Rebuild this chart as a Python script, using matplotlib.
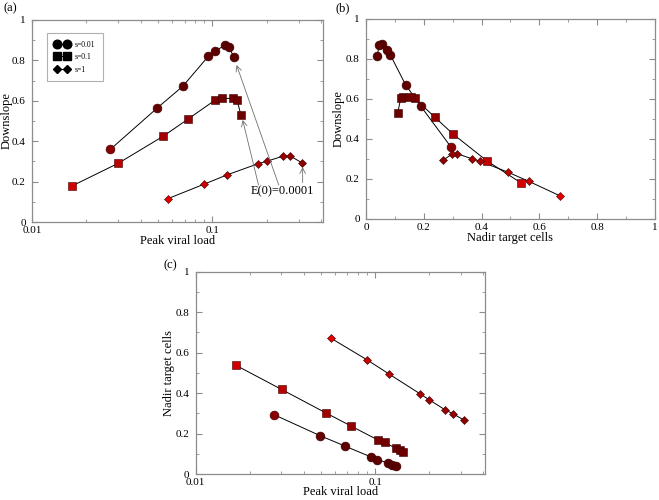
import numpy as np
import matplotlib
matplotlib.use('Agg')
import matplotlib.pyplot as plt
from matplotlib.ticker import MultipleLocator, FixedLocator, FuncFormatter, NullFormatter
from matplotlib.lines import Line2D

plt.rcParams['font.family'] = ['Liberation Serif', 'DejaVu Serif']

# s = 0.01 (circles)
peak_c = [0.0272, 0.0495, 0.0683, 0.095, 0.103, 0.118, 0.124, 0.131]
down_c = [0.360, 0.565, 0.671, 0.821, 0.846, 0.876, 0.868, 0.815]
nadir_c = [0.294, 0.189, 0.137, 0.084, 0.071, 0.054, 0.045, 0.039]

# s = 0.1 (squares)
peak_s = [0.0167, 0.0301, 0.0534, 0.0731, 0.1032, 0.1131, 0.1305, 0.1368, 0.1436]
down_s = [0.179, 0.291, 0.425, 0.509, 0.603, 0.612, 0.612, 0.603, 0.532]
nadir_s = [0.538, 0.418, 0.301, 0.238, 0.169, 0.156, 0.127, 0.120, 0.110]

# s = 1 (diamonds)
peak_d = [0.0568, 0.0903, 0.1202, 0.1783, 0.2000, 0.2468, 0.2703, 0.3135]
down_d = [0.116, 0.188, 0.233, 0.288, 0.301, 0.326, 0.326, 0.293]
nadir_d = [0.671, 0.564, 0.493, 0.396, 0.367, 0.316, 0.299, 0.266]

labels = ['s=0.01', 's=0.1', 's=1']

# colours per point (red -> dark maroon)
col_c = ['#8a0000', '#640000', '#600000', '#5c0000', '#5c0000', '#5a0000', '#5a0000', '#5a0000']
col_s = ['#d20000', '#c00000', '#a40000', '#900000', '#7a0000', '#720000', '#6e0000', '#6c0000', '#6a0000']
col_d = ['#e60000', '#cc0000', '#bb0000', '#a80000', '#a20000', '#980000', '#940000', '#8c0000']

series = [
    (peak_c, down_c, nadir_c, col_c, 'o', 6.4),
    (peak_s, down_s, nadir_s, col_s, 's', 5.2),
    (peak_d, down_d, nadir_d, col_d, 'D', 4.2),
]

fig = plt.figure(figsize=(6.59, 5.0), dpi=100)
ax_a = fig.add_axes([0.0486, 0.556, 0.4416, 0.404])
ax_b = fig.add_axes([0.5554, 0.562, 0.4385, 0.400])
ax_c = fig.add_axes([0.297, 0.052, 0.439, 0.4046])

spine_col = '#8c8c8c'


def style(ax, logx):
    for sp in ax.spines.values():
        sp.set_color(spine_col)
        sp.set_linewidth(0.9)
    ax.tick_params(which='both', direction='in', top=True, right=True,
                   color=spine_col, labelsize=8)
    ax.tick_params(axis='y', pad=4.5)
    ax.tick_params(axis='x', pad=3)
    ax.tick_params(which='major', length=4)
    ax.tick_params(which='minor', length=2.5)
    ax.set_ylim(0, 1)
    ax.yaxis.set_major_locator(MultipleLocator(0.2))
    ax.yaxis.set_minor_locator(MultipleLocator(0.1))
    ax.yaxis.set_major_formatter(FuncFormatter(lambda v, p: f'{v:g}'))
    if logx:
        ax.set_xscale('log')
        ax.set_xlim(0.01, 0.41)
        ax.xaxis.set_major_locator(FixedLocator([0.01, 0.1]))
        ax.xaxis.set_major_formatter(FuncFormatter(lambda v, p: f'{v:g}'))
        ax.xaxis.set_minor_formatter(NullFormatter())
    else:
        ax.set_xlim(0, 1)
        ax.xaxis.set_major_locator(MultipleLocator(0.2))
        ax.xaxis.set_minor_locator(MultipleLocator(0.1))
        ax.xaxis.set_major_formatter(FuncFormatter(lambda v, p: f'{v:g}'))


def draw(ax, xs, ys, cols, mk, ms):
    ax.plot(xs, ys, '-', color='black', lw=0.7, zorder=2)
    for x, y, c in zip(xs, ys, cols):
        ax.plot(x, y, marker=mk, ms=ms, color=c, mec='#3a0000', mew=0.4,
                linestyle='none', zorder=3)


for peak, down, nadir, cols, mk, ms in series:
    draw(ax_a, peak, down, cols, mk, ms)
    draw(ax_b, nadir, down, cols, mk, ms)
    draw(ax_c, peak, nadir, cols, mk, ms)

style(ax_a, True)
style(ax_b, False)
style(ax_c, True)

ax_a.set_xlabel('Peak viral load', fontsize=9, labelpad=0)
ax_a.set_ylabel('Downslope', fontsize=9)
ax_a.yaxis.set_label_coords(-0.068, 0.5)
ax_b.set_xlabel('Nadir target cells', fontsize=9, labelpad=0)
ax_b.set_ylabel('Downslope', fontsize=9)
ax_b.yaxis.set_label_coords(-0.074, 0.5)
ax_c.set_xlabel('Peak viral load', fontsize=9, labelpad=-1)
ax_c.set_ylabel('Nadir target cells', fontsize=9)
ax_c.yaxis.set_label_coords(-0.072, 0.5)

# legend in panel (a)
handles = [Line2D([], [], color='black', marker=m, ms=s, lw=0.7)
           for m, s in [('o', 6.2), ('s', 5.4), ('D', 4.4)]]
leg = ax_a.legend(handles, labels, loc='upper left', bbox_to_anchor=(0.052, 0.936),
                  borderaxespad=0, numpoints=2, fontsize=5.5, handlelength=1.9,
                  handletextpad=0.7, borderpad=1.0, labelspacing=0.6,
                  fancybox=False, framealpha=1)
leg.get_frame().set_edgecolor('#b0b0b0')
leg.get_frame().set_linewidth(0.8)

# annotation arrows in panel (a)
arrow_kw = dict(arrowstyle='->', color='#707070', lw=0.6, shrinkA=0, shrinkB=0)
ax_a.annotate('', xy=(0.136, 0.777), xytext=(0.233, 0.183), arrowprops=arrow_kw)
ax_a.annotate('', xy=(0.147, 0.505), xytext=(0.180, 0.183), arrowprops=arrow_kw)
ax_a.annotate('', xy=(0.316, 0.272), xytext=(0.316, 0.195), arrowprops=arrow_kw)
ax_a.text(0.245, 0.152, 'E(0)=0.0001', fontsize=9, ha='center', va='center')

fig.text(4 / 659, 1 - 8 / 500, '(a)', fontsize=9, va='center', ha='left')
fig.text(336 / 659, 1 - 8 / 500, '(b)', fontsize=9, va='center', ha='left')
fig.text(164 / 659, 1 - 265 / 500, '(c)', fontsize=9, va='center', ha='left')

fig.savefig('out.png', dpi=100)
